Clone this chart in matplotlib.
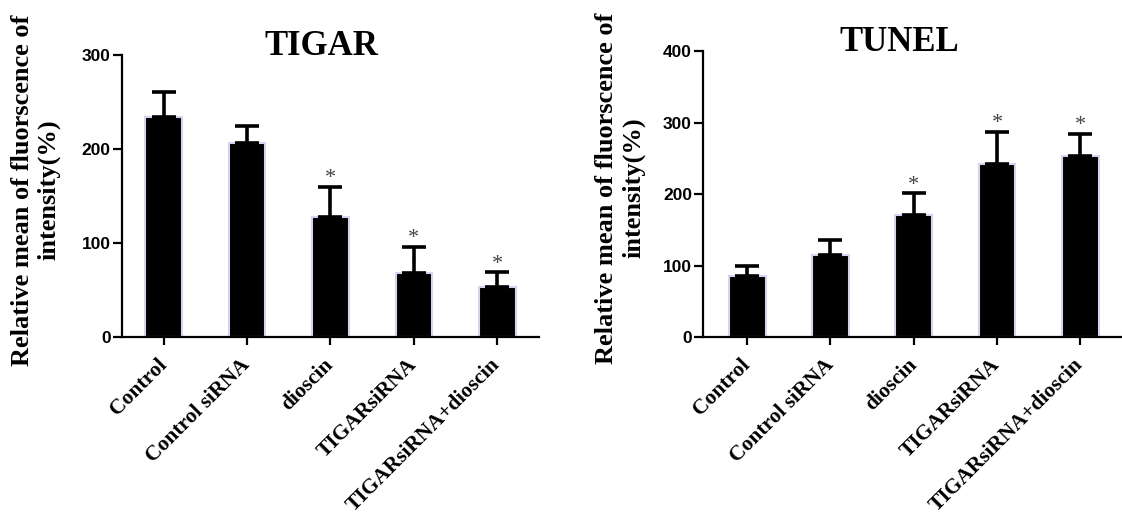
import matplotlib
matplotlib.use("Agg")
import matplotlib.pyplot as plt
import matplotlib.transforms as mtransforms
import numpy as np

# ----- data -----
groups = ["Control", "Control siRNA", "dioscin", "TIGARsiRNA", "TIGARsiRNA+dioscin"]

tigar_mean = [234, 206, 128, 68, 53]
tigar_err = [27, 18, 32, 28, 16]

tunel_mean = [85, 115, 171, 242, 253]
tunel_err = [15, 20, 30, 45, 31]

significant = [False, False, True, True, True]

ylabel = "Relative mean of fluorscence of\nintensity(%)"

SERIF = "Liberation Serif"
SANS = "Liberation Sans"


def draw_panel(fig, ax, means, errs, title, ymax, ystep, xlim, title_x):
    x = np.arange(len(groups))
    means = np.asarray(means, dtype=float)
    errs = np.asarray(errs, dtype=float)

    ax.bar(x, means, width=0.44, color="black",
           edgecolor="#d6d2f2", linewidth=1.5, zorder=2)
    ax.errorbar(x, means, yerr=[np.zeros_like(errs), errs], fmt="none",
                ecolor="black", elinewidth=2.6, capsize=8.5, capthick=2.6,
                zorder=3)

    for xi, m, e, s in zip(x, means, errs, significant):
        if s:
            ax.annotate("*", (xi, m + e), xytext=(0, -1),
                        textcoords="offset points", ha="center", va="bottom",
                        fontsize=16, color="#444444", family=SERIF)

    ax.set_xlim(*xlim)
    ax.set_ylim(0, ymax)
    ax.set_yticks(np.arange(0, ymax + 1, ystep))
    ax.set_xticks(x)
    ax.set_xticklabels(groups, rotation=45, ha="right", va="center",
                       rotation_mode="anchor", family=SERIF,
                       fontweight="bold", fontsize=15.5)
    shift = mtransforms.ScaledTranslation(9 / 100, 0, fig.dpi_scale_trans)
    for lab in ax.get_xticklabels():
        lab.set_transform(lab.get_transform() + shift)
    for lab in ax.get_yticklabels():
        lab.set_family(SANS)
        lab.set_fontweight("bold")
        lab.set_fontsize(12.5)

    for side in ("top", "right"):
        ax.spines[side].set_visible(False)
    for side in ("left", "bottom"):
        ax.spines[side].set_linewidth(1.6)
    ax.tick_params(axis="y", length=6.5, width=1.6, pad=1.5)
    ax.tick_params(axis="x", length=6, width=1.6, pad=12)

    ax.text(title_x, 1.0, title, transform=ax.transAxes, ha="center",
            va="baseline", fontsize=25, fontweight="bold", family=SERIF)


fig = plt.figure(figsize=(11.22, 5.15), dpi=100)
ax1 = fig.add_axes([0.1087, 0.3456, 0.3717, 0.5476])
ax2 = fig.add_axes([0.6266, 0.3456, 0.3734, 0.5553])

draw_panel(fig, ax1, tigar_mean, tigar_err, "TIGAR", 300, 100, (-0.5, 4.5), 0.478)
draw_panel(fig, ax2, tunel_mean, tunel_err, "TUNEL", 400, 100, (-0.53, 4.5), 0.468)

fig.text(0.032, 0.631, ylabel, rotation=90, ha="center", va="center",
         multialignment="center", fontsize=19, fontweight="bold", family=SERIF)
fig.text(0.5526, 0.635, ylabel, rotation=90, ha="center", va="center",
         multialignment="center", fontsize=19, fontweight="bold", family=SERIF)

fig.savefig("out.png", dpi=100)
